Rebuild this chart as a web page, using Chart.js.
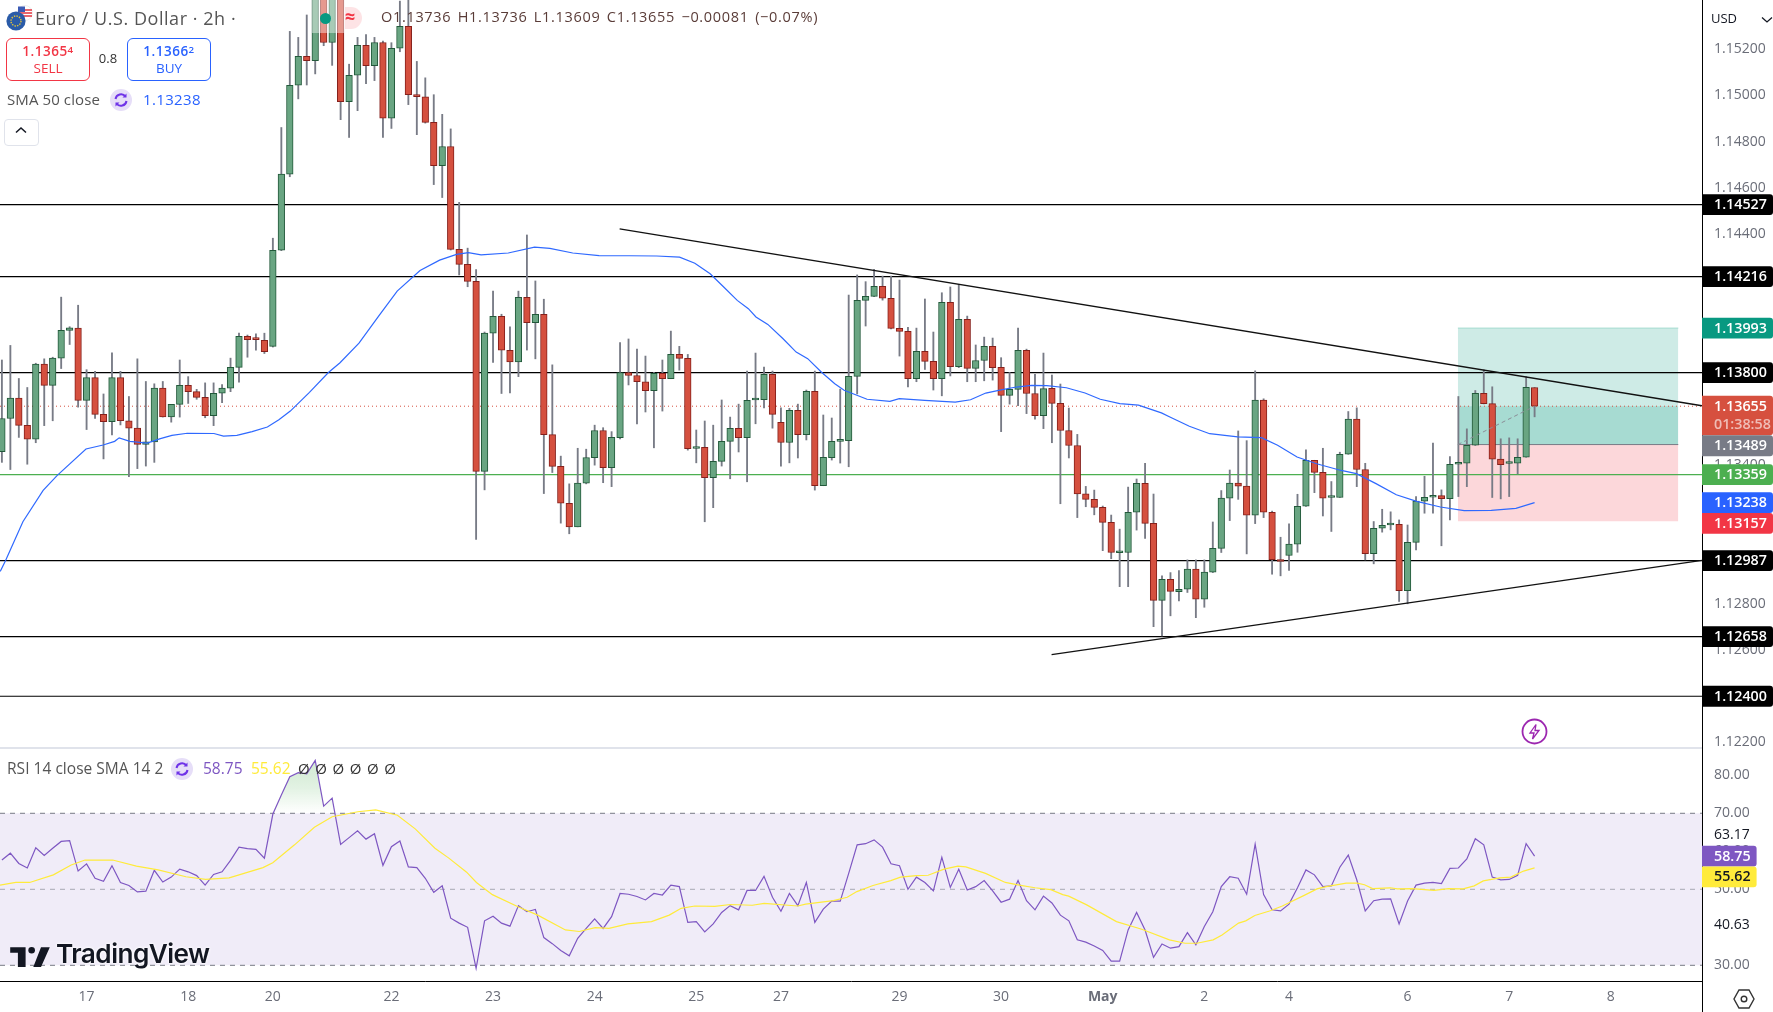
<!DOCTYPE html>
<html><head><meta charset="utf-8">
<script src="https://cdn.jsdelivr.net/npm/chart.js@4/dist/chart.umd.js"></script>
<style>
html,body{margin:0;padding:0;background:#fff;width:1773px;height:1012px;overflow:hidden;font-family:"Open Sans",sans-serif}
canvas{position:absolute;left:0}
.t{position:absolute;white-space:nowrap;line-height:1}
.ab{position:absolute}
sup{font-size:.72em;vertical-align:baseline;position:relative;top:-.35em}
</style></head><body>
<canvas id="main" width="1773" height="748" style="top:0;width:1773px;height:748px"></canvas>
<canvas id="rsi" width="1773" height="264" style="top:748px;width:1773px;height:264px"></canvas>
<div class="ab" style="left:0;top:747px;width:1702px;height:2px;background:#e0e3eb"></div>
<div class="ab" style="left:1702px;top:981px;width:1px;height:31px;background:#000"></div>

<svg class="ab" style="left:5px;top:4px" width="30" height="28" viewBox="0 0 30 28">
<circle cx="20" cy="9" r="7.5" fill="#fff" stroke="#ddd" stroke-width=".5"/><path d="M14 6h13M13 9h14M14 12h13" stroke="#e0343f" stroke-width="1.4"/><rect x="13" y="2.5" width="7" height="5.5" fill="#3b5bb5"/>
<circle cx="11" cy="17" r="9.6" fill="#2a5ba8"/><circle cx="11" cy="17" r="5" fill="none" stroke="#e2c33a" stroke-width="1.4" stroke-dasharray="1.4 1.2"/></svg>
<div class="t" style="left:35px;top:9px;font-size:18px;color:#555;letter-spacing:.55px">Euro / U.S. Dollar · 2h ·</div>
<div class="ab" style="left:312px;top:0;width:33px;height:33px;background:rgba(255,255,255,.42)"></div>
<div class="ab" style="left:345px;top:0;width:17px;height:33px;background:rgba(255,255,255,.42)"></div>
<div class="ab" style="left:345px;top:7px;width:17px;height:22px;background:rgba(242,54,69,.14);border-radius:0 11px 11px 0"></div>
<div class="ab" style="left:320px;top:13px;width:11px;height:11px;border-radius:50%;background:#089981"></div>
<div class="t" style="left:342px;top:7px;font-size:18px;color:#f23645;font-weight:700;width:16px;text-align:center">≈</div>
<div class="t" style="left:381px;top:10px;font-size:14.5px;color:#5a3c38;letter-spacing:.68px;word-spacing:2px">O1.13736 H1.13736 L1.13609 C1.13655 −0.00081 (−0.07%)</div>

<div class="ab" style="left:6px;top:38px;width:82px;height:41px;border:1px solid #f23645;border-radius:6px"></div>
<div class="t" style="left:6px;top:45px;width:84px;text-align:center;font-size:13.5px;color:#f23645;font-weight:600;letter-spacing:.5px">1.1365<sup>4</sup></div>
<div class="t" style="left:6px;top:62px;width:84px;text-align:center;font-size:13.5px;color:#f23645">SELL</div>
<div class="t" style="left:92px;top:52px;width:32px;text-align:center;font-size:13px;color:#333">0.8</div>
<div class="ab" style="left:127px;top:38px;width:82px;height:41px;border:1px solid #2962ff;border-radius:6px"></div>
<div class="t" style="left:127px;top:45px;width:84px;text-align:center;font-size:13.5px;color:#2962ff;font-weight:600;letter-spacing:.5px">1.1366<sup>2</sup></div>
<div class="t" style="left:127px;top:62px;width:84px;text-align:center;font-size:13.5px;color:#2962ff">BUY</div>
<div class="t" style="left:7px;top:92px;font-size:15px;color:#555;letter-spacing:.1px">SMA 50 close</div>
<svg class="ab" style="left:110px;top:89px" width="22" height="22" viewBox="0 0 22 22"><circle cx="11" cy="11" r="11" fill="#e6def8"/><path d="M5.5 10a5.6 5.6 0 0 1 10-2.5M16.5 12a5.6 5.6 0 0 1-10 2.5" fill="none" stroke="#6f33e8" stroke-width="2"/><path d="M16.5 4.5v4h-4zM5.500 17.500v-4h4z" fill="#6f33e8"/></svg>
<div class="t" style="left:143px;top:92px;font-size:15px;color:#2962ff;letter-spacing:.35px">1.13238</div>
<div class="ab" style="left:4px;top:119px;width:33px;height:25px;border:1px solid #e0e3eb;border-radius:4px;background:#fff"></div>
<svg class="ab" style="left:15px;top:126px" width="12" height="8" viewBox="0 0 12 8"><path d="M1 6.500 6 2l5 4.500" fill="none" stroke="#131722" stroke-width="1.5"/></svg>

<div class="t" style="left:7px;top:761px;font-size:15.5px;color:#555;letter-spacing:.03px">RSI 14 close SMA 14 2</div>
<svg class="ab" style="left:171px;top:758px" width="22" height="22" viewBox="0 0 22 22"><circle cx="11" cy="11" r="11" fill="#e6def8"/><path d="M5.500 10a5.600 5.600 0 0 1 10-2.500M16.500 12a5.600 5.600 0 0 1-10 2.500" fill="none" stroke="#6f33e8" stroke-width="2"/><path d="M16.500 4.500v4h-4zM5.500 17.500v-4h4z" fill="#6f33e8"/></svg>
<div class="t" style="left:203px;top:761px;font-size:15.5px;color:#7e57c2">58.75</div>
<div class="t" style="left:251px;top:761px;font-size:15.5px;color:#ffeb3b">55.62</div>
<div class="t" style="left:298px;top:761px;font-size:15px;color:#333;letter-spacing:5.6px">ØØØØØØ</div>

<svg class="ab" style="left:10px;top:945px" width="40" height="22" viewBox="0 0 36 20"><path fill="#131722" d="M14 2H0v5h7v13h7V2zM28 20h-7l7-18h8l-8 18z"/><circle cx="19.500" cy="4.800" r="3" fill="#131722"/></svg>
<div class="t" style="left:56px;top:941px;font-size:26.200px;font-weight:600;font-family:Inter;color:#131722;letter-spacing:-.55px;text-shadow:0 0 3px #fff,0 0 3px #fff">TradingView</div>

<svg class="ab" style="left:1521px;top:718px" width="27" height="27" viewBox="0 0 27 27"><circle cx="13.500" cy="13.500" r="12" fill="#fff" stroke="#9c27b0" stroke-width="1.800"/><path d="M15 6.500 9 15h4l-1.500 6L18 12.500h-4z" fill="none" stroke="#9c27b0" stroke-width="1.300"/></svg>
<div class="t" style="left:1711px;top:12px;font-size:13px;color:#131722">USD</div>
<svg class="ab" style="left:1761px;top:16px" width="12" height="8" viewBox="0 0 12 8"><path d="M1 1.500 6 6l5-4.500" fill="none" stroke="#131722" stroke-width="1.300"/></svg>
<svg class="ab" style="left:1733px;top:987px" width="22" height="24" viewBox="0 0 22 24"><path d="M6 3h10l5 9-5 9H6l-5-9z" fill="none" stroke="#333" stroke-width="1.400"/><circle cx="11" cy="12" r="2.800" fill="none" stroke="#333" stroke-width="1.400"/></svg>

<script>
const opens=[1.13458,1.13602,1.13690,1.13572,1.13512,1.13837,1.13745,1.13863,1.13983,1.13993,1.13680,1.13779,1.13620,1.13588,1.13779,1.13592,1.13560,1.13490,1.13501,1.13733,1.13609,1.13663,1.13745,1.13718,1.13693,1.13614,1.13711,1.13733,1.13823,1.13957,1.13946,1.13940,1.13914,1.14330,1.14659,1.15044,1.15169,1.15150,1.15428,1.15229,1.15444,1.14973,1.15087,1.15217,1.15129,1.15229,1.14901,1.15204,1.15299,1.15003,1.14994,1.14883,1.14696,1.14779,1.14334,1.14269,1.14195,1.13373,1.13971,1.14044,1.13897,1.13847,1.14126,1.14017,1.14053,1.13532,1.13395,1.13235,1.13133,1.13322,1.13432,1.13550,1.13389,1.13519,1.13801,1.13788,1.13761,1.13722,1.13797,1.13774,1.13879,1.13862,1.13472,1.13477,1.13346,1.13416,1.13503,1.13559,1.13519,1.13682,1.13683,1.13793,1.13585,1.13498,1.13637,1.13532,1.13719,1.13311,1.13432,1.13503,1.13506,1.13784,1.14113,1.14130,1.14174,1.14122,1.13992,1.13979,1.13774,1.13892,1.13849,1.13774,1.14104,1.13826,1.14031,1.13819,1.13853,1.13914,1.13823,1.13702,1.13728,1.13897,1.13710,1.13614,1.13732,1.13667,1.13550,1.13485,1.13276,1.13252,1.13217,1.13152,1.13021,1.13022,1.13196,1.13321,1.13148,1.12815,1.12906,1.12853,1.12863,1.12950,1.12820,1.12937,1.13040,1.13257,1.13322,1.13309,1.13183,1.13682,1.13196,1.12991,1.13009,1.13058,1.13222,1.13421,1.13369,1.13260,1.13260,1.13447,1.13599,1.13381,1.13017,1.13127,1.13141,1.13144,1.12857,1.13066,1.13244,1.13261,1.13268,1.13255,1.13404,1.13408,1.13486,1.13711,1.13666,1.13426,1.13407,1.13408,1.13434,1.13736];
const highs=[1.13855,1.13918,1.13775,1.13736,1.13841,1.13860,1.13867,1.14127,1.13999,1.14092,1.13813,1.13806,1.13708,1.13886,1.13806,1.13697,1.13860,1.13762,1.13752,1.13762,1.13663,1.13855,1.13783,1.13728,1.13756,1.13756,1.13749,1.13863,1.13971,1.13963,1.13968,1.13971,1.14382,1.14861,1.15277,1.15251,1.15348,1.15470,1.15460,1.15490,1.15480,1.15135,1.15251,1.15263,1.15251,1.15235,1.15228,1.15408,1.15413,1.15147,1.15076,1.15003,1.14918,1.14855,1.14537,1.14339,1.14246,1.13976,1.14153,1.14053,1.13999,1.14153,1.14396,1.14197,1.14118,1.13834,1.13439,1.13319,1.13473,1.13469,1.13573,1.13562,1.13545,1.13930,1.13946,1.13902,1.13872,1.13801,1.13855,1.13980,1.13914,1.13879,1.13552,1.13591,1.13573,1.13682,1.13608,1.13664,1.13807,1.13885,1.13824,1.13807,1.13648,1.13646,1.13664,1.13725,1.13807,1.13617,1.13604,1.13729,1.14136,1.14223,1.14194,1.14247,1.14218,1.14218,1.14201,1.13996,1.13993,1.14119,1.13976,1.14146,1.14171,1.14182,1.14045,1.13920,1.13954,1.13950,1.13865,1.13801,1.13993,1.13902,1.13793,1.13885,1.13790,1.13751,1.13647,1.13533,1.13308,1.13292,1.13223,1.13184,1.13123,1.13305,1.13340,1.13408,1.13275,1.12921,1.12935,1.12944,1.12990,1.12990,1.12990,1.13154,1.13290,1.13379,1.13548,1.13506,1.13808,1.13687,1.13201,1.13088,1.13146,1.13274,1.13466,1.13421,1.13473,1.13329,1.13456,1.13632,1.13648,1.13408,1.13156,1.13209,1.13198,1.13163,1.13141,1.13264,1.13352,1.13495,1.13293,1.13437,1.13697,1.13557,1.13723,1.13812,1.13739,1.13514,1.13518,1.13514,1.13783,1.13736];
const lows=[1.13412,1.13381,1.13520,1.13404,1.13497,1.13571,1.13592,1.13818,1.13922,1.13651,1.13554,1.13602,1.13427,1.13531,1.13574,1.13350,1.13385,1.13396,1.13412,1.13608,1.13586,1.13608,1.13667,1.13685,1.13605,1.13571,1.13670,1.13718,1.13759,1.13867,1.13898,1.13883,1.13911,1.14328,1.14648,1.14985,1.15045,1.15093,1.15215,1.15130,1.14895,1.14818,1.14934,1.15051,1.15064,1.14818,1.14857,1.15189,1.14960,1.14830,1.14880,1.14614,1.14558,1.14331,1.14223,1.14172,1.13079,1.13293,1.13844,1.13710,1.13713,1.13783,1.13898,1.13860,1.13277,1.13368,1.13149,1.13103,1.13133,1.13319,1.13400,1.13324,1.13307,1.13513,1.13747,1.13578,1.13630,1.13475,1.13634,1.13774,1.13811,1.13465,1.13410,1.13155,1.13216,1.13396,1.13341,1.13457,1.13328,1.13579,1.13648,1.13560,1.13396,1.13410,1.13431,1.13509,1.13292,1.13311,1.13422,1.13409,1.13393,1.13708,1.14002,1.14129,1.14114,1.13990,1.13872,1.13739,1.13761,1.13814,1.13725,1.13700,1.13786,1.13822,1.13761,1.13761,1.13765,1.13768,1.13545,1.13664,1.13657,1.13623,1.13599,1.13558,1.13497,1.13233,1.13431,1.13173,1.13220,1.13185,1.13030,1.12995,1.12874,1.12874,1.13119,1.13083,1.12701,1.12661,1.12748,1.12812,1.12849,1.12740,1.12785,1.12935,1.13022,1.13160,1.13252,1.13016,1.13147,1.13173,1.12928,1.12921,1.12944,1.13023,1.13221,1.13281,1.13180,1.13113,1.13260,1.13447,1.13307,1.12990,1.12973,1.13110,1.13120,1.12810,1.12800,1.13033,1.13192,1.13192,1.13051,1.13163,1.13264,1.13307,1.13485,1.13665,1.13260,1.13254,1.13264,1.13362,1.13434,1.13609];
const closes=[1.13602,1.13690,1.13572,1.13512,1.13837,1.13745,1.13863,1.13983,1.13994,1.13680,1.13779,1.13620,1.13588,1.13779,1.13592,1.13560,1.13490,1.13501,1.13733,1.13609,1.13663,1.13745,1.13718,1.13693,1.13614,1.13711,1.13733,1.13823,1.13957,1.13943,1.13943,1.13891,1.14330,1.14659,1.15044,1.15169,1.15150,1.15444,1.15229,1.15459,1.14973,1.15087,1.15217,1.15129,1.15229,1.14901,1.15204,1.15299,1.15003,1.14994,1.14883,1.14696,1.14779,1.14334,1.14269,1.14195,1.13373,1.13971,1.14044,1.13897,1.13847,1.14126,1.14017,1.14053,1.13532,1.13395,1.13235,1.13133,1.13322,1.13433,1.13550,1.13389,1.13520,1.13801,1.13788,1.13761,1.13722,1.13797,1.13774,1.13879,1.13862,1.13471,1.13477,1.13346,1.13416,1.13503,1.13559,1.13519,1.13680,1.13686,1.13793,1.13620,1.13498,1.13637,1.13532,1.13719,1.13311,1.13434,1.13503,1.13507,1.13784,1.14113,1.14130,1.14174,1.14122,1.13992,1.13979,1.13774,1.13892,1.13849,1.13774,1.14104,1.13826,1.14031,1.13819,1.13853,1.13914,1.13822,1.13702,1.13728,1.13897,1.13710,1.13614,1.13731,1.13667,1.13550,1.13485,1.13276,1.13252,1.13217,1.13152,1.13022,1.13024,1.13196,1.13321,1.13148,1.12815,1.12906,1.12854,1.12863,1.12950,1.12820,1.12937,1.13040,1.13257,1.13322,1.13309,1.13183,1.13682,1.13196,1.12991,1.12983,1.13058,1.13222,1.13421,1.13369,1.13257,1.13263,1.13447,1.13599,1.13381,1.13017,1.13127,1.13140,1.13144,1.12857,1.13066,1.13244,1.13261,1.13268,1.13255,1.13404,1.13408,1.13486,1.13711,1.13666,1.13426,1.13402,1.13410,1.13434,1.13737,1.13655];

const smaIndex=[-0.2,0.45,2.48,4.87,6.54,9.93,11.96,13.31,13.85,15.11,17.15,18.72,20.08,21.89,25.04,26.17,27.75,29.55,31.35,32.71,34.06,36.32,38.56,39.93,42.17,44.47,46.68,49.38,51.69,53.69,55.09,56.59,59.8,62.9,64.71,67.41,70.52,74.12,77.33,80.03,81.83,83.64,85.24,86.84,88.15,89.05,90.45,92.25,93.8,95.16,96.76,98.36,99.46,102.17,104.87,105.97,108.98,112.58,114.39,116.19,117.99,119.8,121.6,123.4,125.71,127.91,129.71,132.02,134.22,136.93,137.93,140.23,142.63,145.94,148.74,150.65,152.95,155.26,158.16,159.96,162.27,164.67,167.08,169.88,172.68,175.89,178.79,181];
const smaValues=[1.1294,1.12988,1.13155,1.13291,1.13356,1.1347,1.13487,1.13503,1.13518,1.13503,1.13495,1.13515,1.13529,1.13538,1.13537,1.13526,1.13529,1.13545,1.13565,1.13596,1.13634,1.13715,1.13801,1.13843,1.13928,1.14044,1.14153,1.14242,1.14287,1.14312,1.1432,1.1431,1.14318,1.14343,1.14338,1.14318,1.14307,1.14306,1.14305,1.143,1.14274,1.14228,1.14171,1.14113,1.14077,1.14041,1.14009,1.13947,1.13889,1.13861,1.13803,1.13752,1.13724,1.13685,1.13676,1.13688,1.1368,1.13673,1.13683,1.13712,1.13726,1.13738,1.13745,1.13744,1.13735,1.13712,1.13685,1.13666,1.1366,1.13626,1.13608,1.13568,1.13536,1.13522,1.13519,1.13486,1.13435,1.13406,1.13377,1.13363,1.1332,1.13272,1.13243,1.13219,1.13203,1.13204,1.13213,1.13238];

const rsiValues=[57.7,59.5,56.8,55.6,60.9,58.9,60.8,62.6,62.8,54.8,56.7,52.9,52.1,56.2,51.8,51.0,49.3,49.5,55.0,51.9,53.2,55.3,54.6,53.6,51.1,53.9,54.6,57.6,61.1,60.7,60.5,58.2,69.8,74.8,79.6,80.7,80.4,83.9,71.9,74.0,61.8,63.6,65.4,63.2,64.6,56.3,61.2,62.7,55.9,55.7,52.9,49.2,50.9,42.4,41.1,40.0,29.2,41.7,42.9,41.1,40.3,45.7,44.1,44.7,37.3,35.7,33.9,32.5,37.1,39.7,42.2,39.7,42.8,48.9,48.7,48.1,47.2,48.9,48.5,51.1,50.7,41.3,41.5,38.8,40.9,43.9,45.7,44.6,49.7,49.7,53.4,47.9,44.2,48.9,45.7,51.8,41.3,44.8,46.9,46.9,54.2,61.7,62.0,63.0,61.1,56.7,56.2,50.0,53.2,51.8,49.6,58.4,50.5,55.3,49.8,50.7,52.3,49.6,46.6,47.4,52.3,47.0,44.6,48.2,46.4,43.2,41.7,36.7,36.1,35.1,33.9,31.1,31.1,39.3,43.9,39.3,32.1,35.6,34.5,34.9,38.6,35.4,40.2,44.1,50.7,53.3,52.9,48.7,61.9,48.6,44.6,44.3,46.1,50.4,55.1,53.8,50.7,50.9,55.8,59.0,52.5,44.3,47.0,47.4,47.5,40.9,46.9,51.1,51.6,51.8,51.5,55.5,55.6,58.0,63.3,61.7,53.2,52.5,52.6,53.7,62.0,58.75];
const rsiSmaIndex=[-0.22,1.64,3.28,6.08,8.18,9.82,13.08,15.89,18.45,21.73,24.06,26.84,30.83,31.99,34.56,36.9,39,42.04,44.14,46.71,48.81,51.14,52.78,54.88,56.04,57.92,60.95,63.28,66.55,68.18,70.06,71.69,73.92,76.71,78.81,80.21,81.83,84.18,86.04,88.62,90.02,93.98,94.92,98.19,99.82,100.97,102.87,104.97,106.12,107.98,109.38,111.26,112.89,113.83,116.16,118.5,120.14,122,123.87,125.28,125.98,128.11,131.62,134.61,137.88,139.73,141.13,143.04,144.09,146.04,146.89,147.96,149.7,151.21,153.79,155.31,156.39,158.76,160.06,160.91,161.87,163.94,164.8,166.52,169.12,170.84,172.56,173.87,174.94,176.89,178.19,179.7,181];
const rsiSmaValues=[51.1,51.8,51.8,53.8,56.4,57.7,57.7,56.1,55.1,53.3,52.6,53.0,55.7,57.0,61.7,66.3,69.1,70.4,70.9,69.5,65.9,60.8,58.2,54.5,51.8,48.6,45.4,43.2,39.3,38.9,39.9,39.7,40.9,41.5,43.2,45.0,45.6,45.5,46.0,45.8,46.3,45.6,46.1,47.0,47.9,49.4,51.0,52.3,53.2,53.6,53.7,55.3,56.1,55.9,54.2,51.8,51.1,50.4,49.9,48.6,48.2,45.9,41.5,39.5,36.7,35.8,35.8,36.7,38.0,41.1,41.7,43.1,44.3,45.6,48.4,50.1,50.7,51.6,51.6,51.2,50.2,50.4,50.1,50.2,49.7,50.2,50.1,50.9,52.2,53.0,53.2,54.8,55.62];

const dayTickIndex=[10,22,32,46,58,70,82,92,106,118,130,142,152,166,178,190];
const dayTickLabels=["17","18","20","22","23","24","25","27","29","30","May","2","4","6","7","8"];
const priceTicks=[1.152,1.15,1.148,1.146,1.144,1.142,1.14,1.138,1.136,1.134,1.132,1.13,1.128,1.126,1.124,1.122];
const rsiTicks=[80,70,60,50,30];
const blackLevels=[1.14527,1.14216,1.138,1.12987,1.12658,1.124];
const greenLevel=1.13359, lastPrice=1.13655, smaLast=1.13238;
const boxStart=171.94, boxEnd=197.97, boxTarget=1.13993, boxEntry=1.13489, boxStop=1.13157;
const trendDownX=[72.95,200.77], trendDownY=[1.14422,1.13657];
const trendUpX=[123.96,200.77], trendUpY=[1.1258,1.12988];
const tagValues=[1.14527,1.14216,1.13993,1.138,1.13655,1.13489,1.13359,1.13238,1.13157,1.12987,1.12658,1.124];
const tagColors=["#000","#000","#089981","#000","#d6503f","#787b86","#4caf50","#2962ff","#f23645","#000","#000","#000"];
const countdown="01:38:58";
const rsiTagValues=[58.75,55.62];
const rsiTagColors=["#7e57c2","#ffeb3b"];
const rsiTagText=["#fff","#131722"];
const rsiPlainValues=[63.17,40.63];

const X_MIN=-0.224, X_MAX=200.77;
const FONT='"Open Sans",sans-serif';
const GREEN='#69a582', RED='#d5503f', GREEN_B='#22593a', RED_B='#86201b';
const idx=opens.map((_,i)=>i);
const isUp=idx.map(i=>closes[i]>=opens[i]);

function hline(v,color,width,dash,order){
  return {type:'line',data:[{x:X_MIN,y:v},{x:X_MAX,y:v}],borderColor:color,borderWidth:width,borderDash:dash||[],pointRadius:0,order,tension:0,fill:false};
}
function seg(xs,ys,color,width,dash,order){
  return {type:'line',data:xs.map((x,i)=>({x,y:ys[i]})),borderColor:color,borderWidth:width,borderDash:dash||[],pointRadius:0,order,tension:0,fill:false};
}
function box(a,b,color,order){
  return {type:'line',data:[{x:boxStart,y:a},{x:boxEnd,y:a}],borderWidth:0,pointRadius:0,backgroundColor:color,fill:{value:b},order,tension:0};
}
function tags(chart,values,colors,width,digits,textCols,extra){
  const s=chart.scales.y,c=chart.ctx,h=20.8;
  let prev=-1e9;
  values.forEach((v,i)=>{
    const y=s.getPixelForValue(v);
    let top=y-h/2; if(top<prev) top=prev;
    const two=extra&&extra[v];
    const hh=two?h*1.9:h;
    c.fillStyle=colors[i];
    c.beginPath();c.roundRect(s.left,top,width,hh,[0,3,3,0]);c.fill();
    c.textBaseline='middle';c.textAlign='left';
    c.font='600 14.3px '+FONT;
    c.fillStyle=textCols?textCols[i]:'#fff';
    c.fillText(v.toFixed(digits),s.left+12,top+h/2+.5);
    if(two){c.fillStyle='rgba(255,255,255,.62)';c.fillText(two,s.left+12,top+h+8.5);}
    prev=top+hh;
  });
}
function noPad(s){s.paddingTop=0;s.paddingBottom=0;s.paddingLeft=0;s.paddingRight=0;}
Chart.defaults.animation=false;
Chart.defaults.font.family=FONT;

new Chart(document.getElementById('main'),{
  type:'bar',
  data:{datasets:[
    box(boxTarget,boxEntry,'rgba(8,153,129,.2)',30),
    box(lastPrice,boxEntry,'rgba(8,153,129,.2)',29),
    box(boxEntry,boxStop,'rgba(242,54,69,.2)',28),
    seg([boxStart,boxEnd],[boxTarget,boxTarget],'#a5dcd1',1,null,27),
    ...blackLevels.map(v=>hline(v,'#000',1.2,null,20)),
    hline(greenLevel,'#4caf50',1.2,null,19),
    hline(lastPrice,'#d6503f',1,[1,3],18),
    seg([boxStart,boxEnd],[boxEntry,boxEntry],'#787b86',1,null,17),
    {type:'bar',data:idx.map(i=>({x:i,y:[lows[i],highs[i]]})),backgroundColor:'#787b86',barThickness:1.2,grouped:false,order:10,borderWidth:0},
    {type:'bar',data:idx.map(i=>({x:i,y:[opens[i],closes[i]]})),backgroundColor:idx.map(i=>isUp[i]?GREEN:RED),borderColor:idx.map(i=>isUp[i]?GREEN_B:RED_B),borderWidth:1,borderSkipped:false,barThickness:6.6,minBarLength:2,grouped:false,order:9},
    seg(smaIndex,smaValues,'#2f69ff',1.2,null,5),
    seg(trendDownX,trendDownY,'#111',1.3,null,4),
    seg(trendUpX,trendUpY,'#111',1.3,null,4),
    seg([boxStart,181],[boxEntry,lastPrice],'#8a8d96',1,[4,3],3)
  ]},
  options:{responsive:false,animation:false,events:[],layout:{padding:0,autoPadding:false},
    plugins:{legend:{display:false},tooltip:{enabled:false}},
    scales:{
      x:{type:'linear',min:X_MIN,max:X_MAX,display:false,offset:false},
      y:{position:'right',min:1.12176,max:1.154128,grid:{display:false,drawTicks:false},border:{display:true,color:'#000',width:1},
        afterFit(s){s.width=71;noPad(s)},
        afterBuildTicks(s){s.ticks=priceTicks.map(v=>({value:v}))},
        ticks:{autoSkip:false,padding:12,color:'#6a6d78',font:{size:14,family:FONT},callback:v=>Number(v).toFixed(5)}}
    }},
  plugins:[{id:'mainTags',afterDraw(ch){
    tags(ch,tagValues,tagColors,71,5,null,{[lastPrice]:countdown});
  }}]
});

function rsiGradient(ctx){
  const ch=ctx.chart;
  if(!ch.chartArea) return 'rgba(76,175,80,.15)';
  const s=ch.scales.y;
  const g=ch.ctx.createLinearGradient(0,s.getPixelForValue(85),0,s.getPixelForValue(70));
  g.addColorStop(0,'rgba(76,175,80,.28)');g.addColorStop(.55,'rgba(76,175,80,.16)');g.addColorStop(1,'rgba(76,175,80,0)');
  return g;
}
new Chart(document.getElementById('rsi'),{
  type:'line',
  data:{datasets:[
    {data:[{x:X_MIN,y:70},{x:X_MAX,y:70}],borderWidth:0,pointRadius:0,backgroundColor:'rgba(126,87,194,.115)',fill:{value:30},order:20},
    hline(70,'#787b86',1,[5,5],15),
    hline(50,'rgba(120,123,134,.6)',1,[5,5],15),
    hline(30,'#787b86',1,[5,5],15),
    {data:idx.map(i=>({x:i,y:rsiValues[i]})),borderColor:'#7e57c2',borderWidth:1.2,pointRadius:0,tension:0,order:5,backgroundColor:rsiGradient,fill:{target:{value:70},below:'rgba(0,0,0,0)'}},
    seg(rsiSmaIndex,rsiSmaValues,'#ffeb3b',1.2,null,4)
  ]},
  options:{responsive:false,animation:false,events:[],layout:{padding:0,autoPadding:false},
    plugins:{legend:{display:false},tooltip:{enabled:false}},
    scales:{
      x:{type:'linear',min:X_MIN,max:X_MAX,grid:{display:false,drawTicks:false},border:{display:true,color:'#000',width:1},
        afterFit(s){s.height=31;noPad(s)},
        afterBuildTicks(s){s.ticks=dayTickIndex.map(v=>({value:v}))},
        ticks:{autoSkip:false,maxRotation:0,padding:8,color:'#6a6d78',
          font:c=>({size:14,family:FONT,weight:dayTickLabels[dayTickIndex.indexOf(c.tick&&c.tick.value)]==='May'?'700':'400'}),
          callback:v=>dayTickLabels[dayTickIndex.indexOf(v)]||''}},
      y:{position:'right',min:25.87,max:87.18,grid:{display:false,drawTicks:false},border:{display:true,color:'#000',width:1},
        afterFit(s){s.width=71;noPad(s)},
        afterBuildTicks(s){s.ticks=rsiTicks.map(v=>({value:v}))},
        ticks:{autoSkip:false,padding:12,color:'#6a6d78',font:{size:14,family:FONT},callback:v=>Number(v).toFixed(2)}}
    }},
  plugins:[{id:'rsiTags',afterDraw(ch){
    const s=ch.scales.y,c=ch.ctx;
    c.font='14px '+FONT;c.fillStyle='#131722';c.textAlign='left';c.textBaseline='middle';
    c.fillText(rsiPlainValues[0].toFixed(2),s.left+12,s.getPixelForValue(rsiPlainValues[0])-4);
    c.fillText(rsiPlainValues[1].toFixed(2),s.left+12,s.getPixelForValue(rsiPlainValues[1]));
    tags(ch,rsiTagValues,rsiTagColors,54.6,2,rsiTagText);
  }}]
});
</script>
</body></html>
